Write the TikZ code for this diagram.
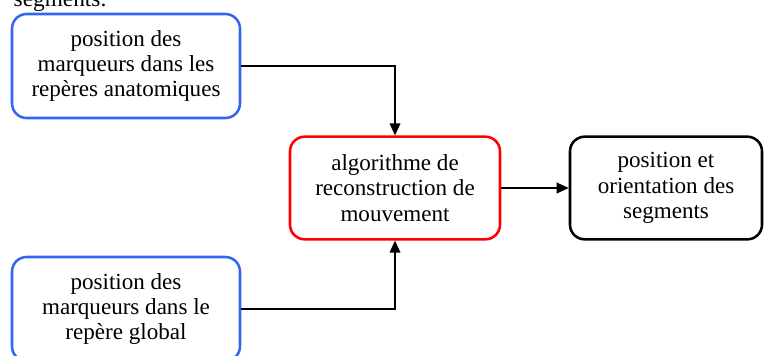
\documentclass[tikz,border=0pt]{standalone}
\usepackage{fontspec}
\setmainfont{Liberation Serif}
\usepackage{tikz}
\usetikzlibrary{arrows.meta,positioning,calc}
\definecolor{Blue}{HTML}{3366F0}
\definecolor{Red}{HTML}{FF0000}

\tikzset{
  box/.style={draw,line width=1.9pt,rounded corners=11pt,align=center,
    font=\fontsize{17.3}{19}\selectfont,inner sep=0pt},
  flow/.style={line width=1.1pt,-{Triangle[length=9pt,width=8pt]}}
}

\begin{document}
\begin{tikzpicture}[x=0.75pt,y=-0.75pt]
\useasboundingbox (0,0) rectangle (767,355);
\node[anchor=base west,font=\fontsize{17.5}{19}\selectfont] (seg) at (9,6) {segments.};
\node[box,Blue,minimum width=171pt,minimum height=78pt] (anat) at (126,66)
  {\color{black}position des\\\color{black}marqueurs dans les\\\color{black}repères anatomiques};
\node[box,Blue,minimum width=171pt,minimum height=78pt] (glob) at (126,309)
  {\color{black}position des\\\color{black}marqueurs dans le\\\color{black}repère global};
\node[box,Red,minimum width=157.5pt,minimum height=77pt] (algo) at (395,188)
  {\color{black}algorithme de\\\color{black}reconstruction de\\\color{black}mouvement};
\node[box,minimum width=144pt,minimum height=77pt] (seg2) at (666,188)
  {position et\\orientation des\\segments};
\draw[flow] (anat.east) -| (algo.north);
\draw[flow] (glob.east) -| (algo.south);
\draw[flow] (algo.east) -- (seg2.west);
\end{tikzpicture}
\end{document}
